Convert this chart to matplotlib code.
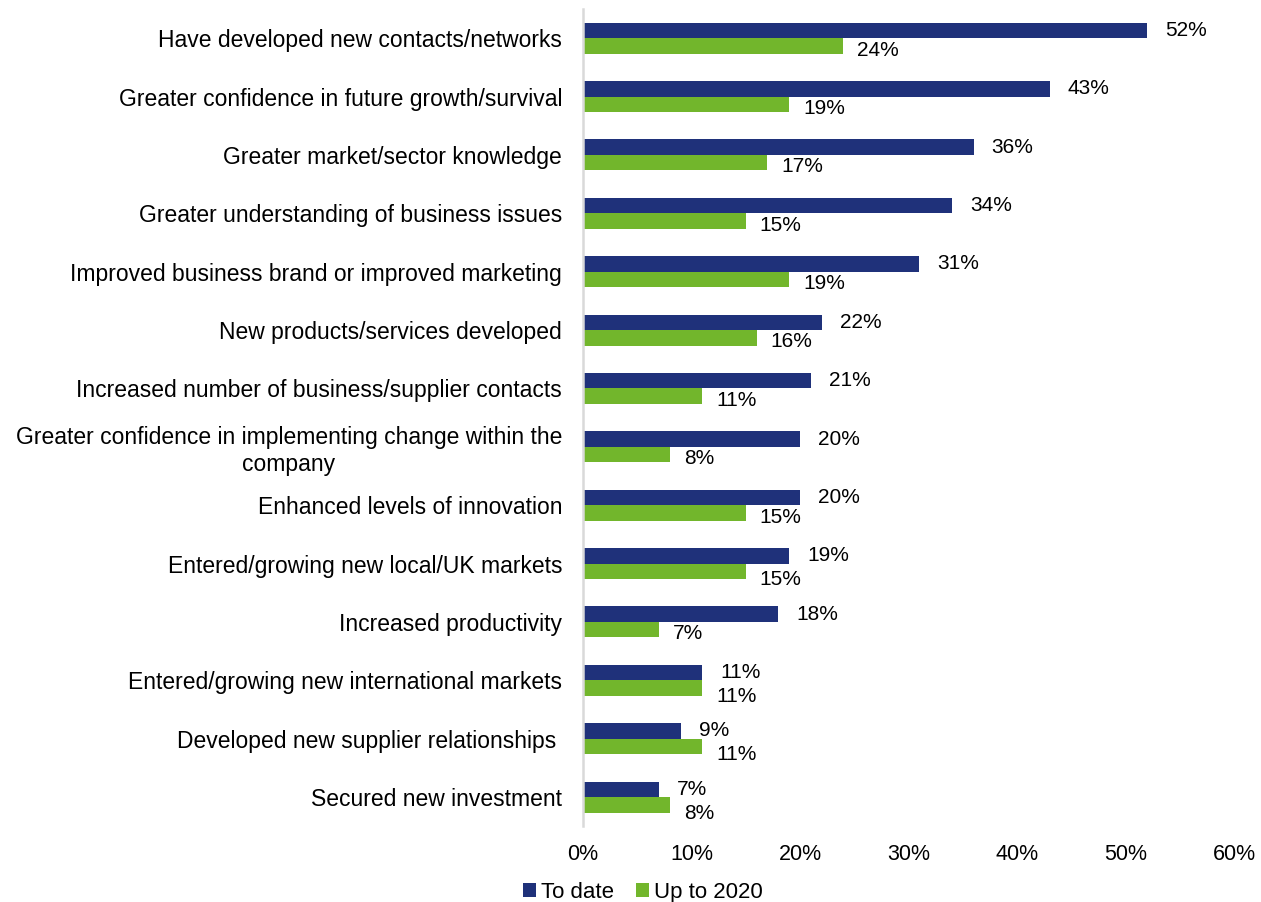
import numpy as np
import matplotlib.pyplot as plt

plt.rcParams['font.family'] = ['Liberation Sans', 'DejaVu Sans']

categories = [
    "Have developed new contacts/networks",
    "Greater confidence in future growth/survival",
    "Greater market/sector knowledge",
    "Greater understanding of business issues",
    "Improved business brand or improved marketing",
    "New products/services developed",
    "Increased number of business/supplier contacts",
    "Greater confidence in implementing change within the\ncompany",
    "Enhanced levels of innovation",
    "Entered/growing new local/UK markets",
    "Increased productivity",
    "Entered/growing new international markets",
    "Developed new supplier relationships ",
    "Secured new investment",
]
to_date = [52, 43, 36, 34, 31, 22, 21, 20, 20, 19, 18, 11, 9, 7]
up_to_2020 = [24, 19, 17, 15, 19, 16, 11, 8, 15, 15, 7, 11, 11, 8]
xticks = [0, 10, 20, 30, 40, 50, 60]

navy = '#1f317a'
green = '#72b62c'

fig = plt.figure(figsize=(12.61, 9.02), dpi=100)
ax = fig.add_axes([0.4623, 0.084, 0.5163, 0.906])

y = np.arange(len(categories))
h = 0.265
b1 = ax.barh(y - h / 2, to_date, height=h, color=navy, label='To date')
b2 = ax.barh(y + h / 2, up_to_2020, height=h, color=green, label='Up to 2020')

# value labels just past the end of each bar
for bar, v in zip(b1, to_date):
    ax.annotate(f'{v}%', (bar.get_width(), bar.get_y() + bar.get_height() / 2),
                xytext=(13, 0), textcoords='offset points',
                ha='left', va='center', fontsize=15)
for bar, v, other in zip(b2, up_to_2020, to_date):
    # nudge the lower label down when both labels sit close together
    dy = -6 if abs(v - other) < 5 else -3
    ax.annotate(f'{v}%', (bar.get_width(), bar.get_y() + bar.get_height() / 2),
                xytext=(10, dy), textcoords='offset points',
                ha='left', va='center', fontsize=15)

ax.set_ylim(len(categories) - 0.5, -0.5)
ax.set_xlim(0, 60)
ax.set_xticks(xticks)
ax.set_xticklabels([f'{t}%' for t in xticks], fontsize=15.5)
ax.set_yticks(y)
ax.set_yticklabels(categories, fontsize=16.5, multialignment='center')
ax.tick_params(axis='y', length=0, pad=15)
ax.tick_params(axis='x', length=0, pad=13)

for s in ['top', 'right', 'bottom']:
    ax.spines[s].set_visible(False)
ax.spines['left'].set_color('#d9d9d9')
ax.spines['left'].set_linewidth(1.8)

fig.legend(handles=[b1, b2], loc='lower center', bbox_to_anchor=(0.51, -0.017),
           ncol=2, frameon=False, fontsize=16, handlelength=0.55, handleheight=0.55,
           handletextpad=0.25, columnspacing=1.0, borderpad=0.15)

fig.savefig('out.png', dpi=100)
